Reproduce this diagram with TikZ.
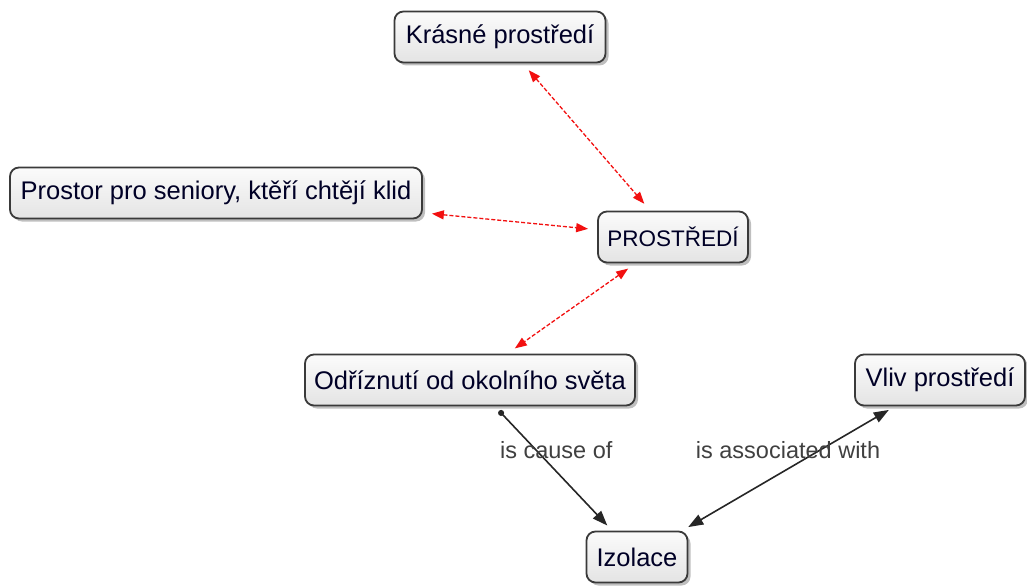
\documentclass[tikz,border=0pt]{standalone}
\usepackage{fontspec}
\setmainfont{Liberation Sans}
\usetikzlibrary{shadows,arrows.meta}
\definecolor{boxedge}{HTML}{3A3A3A}
\definecolor{boxtop}{HTML}{FBFBFB}
\definecolor{boxbot}{HTML}{E4E4E4}
\definecolor{linkred}{HTML}{F21010}
\definecolor{lbltext}{HTML}{404040}
\tikzset{
  concept/.style={draw=boxedge, line width=1.8pt, rounded corners=9pt,
    top color=boxtop, bottom color=boxbot, inner sep=2pt,
    minimum height=51pt, font=\fontsize{25.5}{30}\selectfont, text=black!85!blue,
    drop shadow={shadow xshift=3pt, shadow yshift=-3pt, opacity=0.5}},
  redlink/.style={draw=linkred, line width=1.3pt, dash pattern=on 4pt off 2pt,
    {Triangle[length=12pt,width=9pt,fill=linkred]}-{Triangle[length=12pt,width=9pt,fill=linkred]},
    shorten <=9pt, shorten >=9pt},
  blacklink/.style={draw=black!85, line width=1.6pt},
  lbl/.style={font=\fontsize{23.5}{28}\selectfont, text=lbltext, inner sep=1pt}
}
\begin{document}
\begin{tikzpicture}[x=1pt,y=-1pt]
  \useasboundingbox (0,0) rectangle (1027,588);

  % concepts
  \node[concept, minimum width=211pt] (krasne) at (500,37) {Krásné prostředí};
  \node[concept, minimum width=412pt] (prostor) at (216,193) {Prostor pro seniory, ktěří chtějí klid};
  \node[concept, minimum width=150pt, font=\fontsize{22.5}{27}\selectfont] (prostredi) at (673,237) {PROSTŘEDÍ};
  \node[concept, minimum width=330pt] (odriznuti) at (470,380) {Odříznutí od okolního světa};
  \node[concept, minimum width=170pt] (vliv) at (940,380) {Vliv prostředí};
  \node[concept, minimum width=101pt] (izolace) at (637,557) {Izolace};

  % dashed associations around PROSTŘEDÍ
  \draw[redlink] (krasne) -- (prostredi);
  \draw[redlink] (prostor) -- (prostredi);
  \draw[redlink] (prostredi) -- (odriznuti);

  % labelled links to Izolace
  \draw[blacklink, {Circle[length=6pt]}-{Triangle[length=15pt,width=11pt]},
        shorten <=6pt, shorten >=7pt]
    (odriznuti) -- node[lbl, pos=0.37, xshift=18pt, yshift=2pt] (cause) {is cause of} (izolace);
  \draw[blacklink, {Triangle[length=15pt,width=11pt]}-{Triangle[length=15pt,width=11pt]},
        shorten <=7pt, shorten >=7pt]
    (izolace) -- node[lbl, pos=0.62, xshift=-26pt, yshift=4pt] (assoc) {is associated with} (vliv);
\end{tikzpicture}
\end{document}
